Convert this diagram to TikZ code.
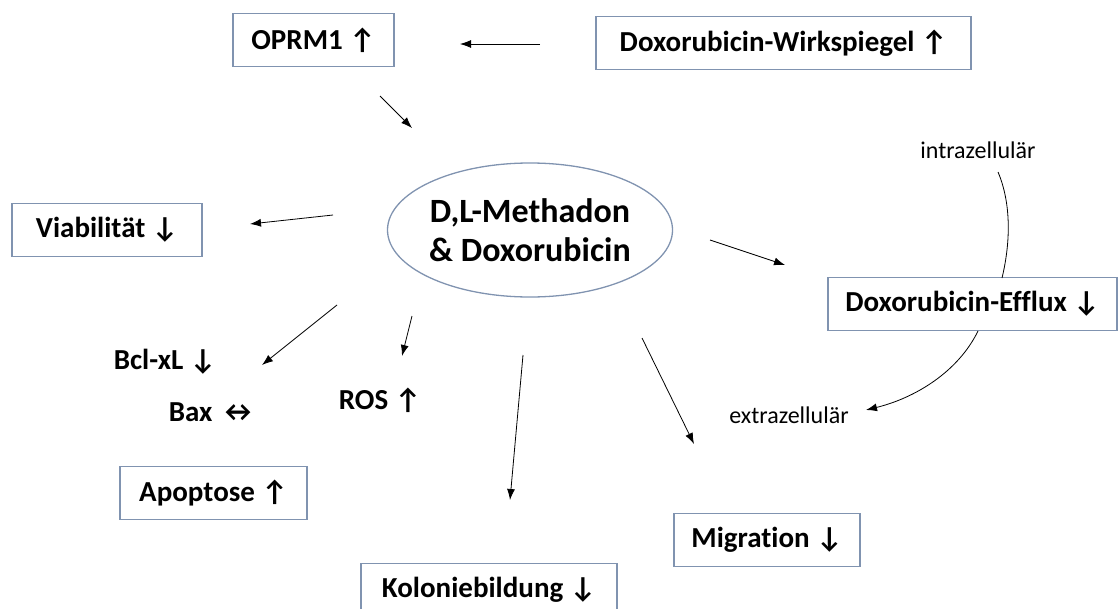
\documentclass[tikz,border=0pt]{standalone}
\usepackage{fontspec}
\setmainfont{Carlito}[Ligatures={NoCommon}]
\newfontfamily\arr{Carlito}
\usetikzlibrary{arrows.meta,shapes.geometric}
\definecolor{boxc}{RGB}{128,147,176}
\tikzset{
  lbox/.style={draw=boxc,line width=1.3pt,minimum height=53pt,inner xsep=12pt,font=\fontsize{29}{34}\selectfont\bfseries},
  lbl/.style={font=\fontsize{29}{34}\selectfont\bfseries,inner sep=0pt},
  small/.style={font=\fontsize{24}{28}\selectfont,inner sep=0pt},
  conn/.style={line width=0.8pt,-{Latex[length=11pt,width=8pt]}},
}
\begin{document}
\begin{tikzpicture}[x=1pt,y=-1pt]
\useasboundingbox (0,0) rectangle (1118,608);
\node[lbox,minimum width=161pt] (oprm) at (313.5,40) {OPRM1 {\arr ↑}};
\node[lbox,minimum width=375pt] (wirk) at (783.5,43) {Doxorubicin-Wirkspiegel {\arr ↑}};
\node[draw=boxc,line width=1.3pt,ellipse,minimum width=272pt,minimum height=134pt,inner sep=0pt,align=center,font=\fontsize{34}{39}\selectfont\bfseries] (main) at (530,230) {D,L-Methadon\\\& Doxorubicin};
\node[lbox,minimum width=190pt] (via) at (107,230) {Viabilität {\arr ↓}};
\node[lbox,minimum width=289pt] (eff) at (972.5,304) {Doxorubicin-Efflux {\arr ↓}};
\node[lbox,minimum width=186pt] (mig) at (767,540) {Migration {\arr ↓}};
\node[lbox,minimum width=256pt] (kol) at (489,590) {Koloniebildung {\arr ↓}};
\node[lbox,minimum width=187pt] (apo) at (213.5,493) {Apoptose {\arr ↑}};
\node[lbl] (bcl) at (165,362) {Bcl-xL {\arr ↓}};
\node[lbl] (bax) at (213,412) {Bax {\arr ↔}};
\node[lbl] (ros) at (380,400) {ROS {\arr ↑}};
\node[small] (intra) at (978,150) {intrazellulär};
\node[small] (extra) at (789,415) {extrazellulär};
\coordinate (a1s) at (540,44); \coordinate (a1e) at (460,44);
\draw[conn] (a1s) -- (a1e);
\coordinate (a2s) at (380,96); \coordinate (a2e) at (412,128);
\draw[conn] (a2s) -- (a2e);
\coordinate (a3s) at (333,215); \coordinate (a3e) at (250,224);
\draw[conn] (a3s) -- (a3e);
\coordinate (a4s) at (710,240); \coordinate (a4e) at (785,265);
\draw[conn] (a4s) -- (a4e);
\coordinate (a5s) at (642,338); \coordinate (a5e) at (694,444);
\draw[conn] (a5s) -- (a5e);
\coordinate (a6s) at (523,355); \coordinate (a6e) at (510,500);
\draw[conn] (a6s) -- (a6e);
\coordinate (a7s) at (412,316); \coordinate (a7e) at (402,356);
\draw[conn] (a7s) -- (a7e);
\coordinate (a8s) at (337,305); \coordinate (a8e) at (262,365);
\draw[conn] (a8s) -- (a8e);
\coordinate (c1s) at (998,172); \coordinate (c1e) at (1002,278);
\draw[line width=0.8pt] (c1s) .. controls (1012,205) and (1010,245) .. (c1e);
\coordinate (c2s) at (978,331); \coordinate (c2e) at (866,410);
\draw[conn] (c2s) .. controls (958,372) and (915,398) .. (c2e);
\end{tikzpicture}
\end{document}
